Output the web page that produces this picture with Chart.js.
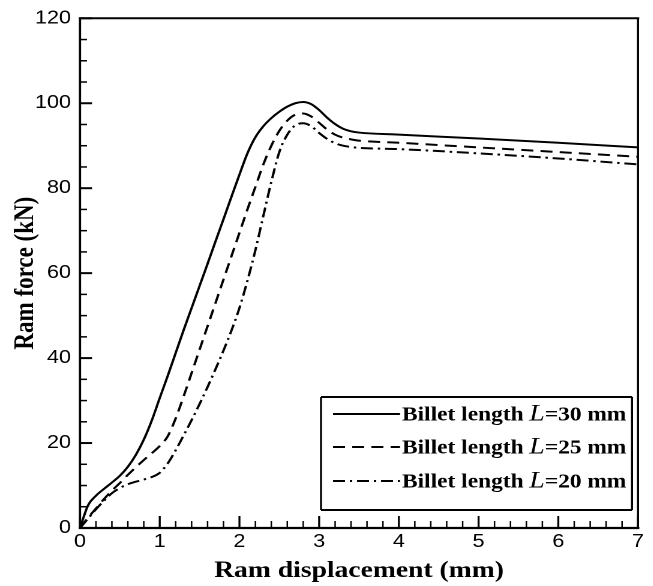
<!DOCTYPE html>
<html><head><meta charset="utf-8">
<script src="https://cdn.jsdelivr.net/npm/chart.js@4/dist/chart.umd.min.js"></script>
<style>
html,body{margin:0;padding:0;background:#fff;overflow:hidden}
#wrap{width:544px;height:586px;position:relative;transform:scaleX(1.2);transform-origin:0 0}
</style>
</head><body><div id="wrap"><canvas id="c"></canvas></div>
<script>
// Ram displacement (mm)
const displacement = [0,0.1,0.2,0.3,0.4,0.5,0.6,0.7,0.8,0.9,1.0,1.1,1.2,1.3,1.4,1.5,1.6,1.7,1.8,1.9,2.0,2.1,2.2,2.3,2.4,2.5,2.6,2.7,2.8,2.9,3.0,3.1,3.2,3.3,3.4,3.5,4,5,6,7];
// Ram force (kN)
const forceL30 = [0,5.3,7.6,9.2,10.7,12.3,14.4,17.2,20.8,25.3,30.6,35.8,41.2,46.6,51.8,57,62.2,67.5,72.7,78,83.2,88.2,92,94.6,96.5,98,99.2,100,100.3,99.8,98.4,96.6,95.1,94,93.4,93.1,92.6,91.7,90.7,89.6];
const forceL25 = [0,2.4,4.6,6.8,8.8,10.6,12.5,14.3,16,17.6,19.3,21.6,25.8,31,36.5,42,47.5,53,58.5,64,69.5,75,80.3,85.6,90,93.5,95.9,97.3,97.6,96.9,95.4,93.8,92.6,91.9,91.5,91.2,90.7,89.6,88.5,87.4];
const forceL20 = [0,2.2,4.4,6.4,8.2,9.4,10.3,10.9,11.4,12,13,15.2,18.3,21.8,25.4,29.2,33.2,37.4,41.8,46.5,51.8,58.2,65.4,73.5,81.5,88.5,92.6,94.8,95.3,94.6,93,91.6,90.6,90,89.7,89.5,89.2,88.2,87,85.6];
const billetLengths = [30, 25, 20];
const xTickValues = [0,1,2,3,4,5,6,7];
const yTickValues = [0,20,40,60,80,100,120];

const SX = 1.2; // horizontal stretch of the page
const seriesForces = [forceL30, forceL25, forceL20];
const dashStyles = [[], [10,6], [10,4,2,4]];

const datasets = seriesForces.map((f, i) => ({
  label: 'Billet length L=' + billetLengths[i] + ' mm',
  data: displacement.map((x, k) => ({x: x, y: f[k]})),
  borderColor: '#000',
  borderWidth: 2,
  borderDash: dashStyles[i],
  pointRadius: 0,
  fill: false,
  cubicInterpolationMode: 'monotone'
}));

const SANS = '"Liberation Sans", Arial, sans-serif';
const SERIF = '"Liberation Serif", "Times New Roman", serif';

function hLine(ctx, x1, x2, y, w) { ctx.lineWidth = w; ctx.beginPath(); ctx.moveTo(x1, y); ctx.lineTo(x2, y); ctx.stroke(); }
function vLine(ctx, x, y1, y2, w) { ctx.lineWidth = w; ctx.beginPath(); ctx.moveTo(x, y1); ctx.lineTo(x, y2); ctx.stroke(); }

const framePlugin = {
  id: 'frame',
  afterDatasetsDraw(chart) {
    const {ctx, chartArea: a, scales} = chart;
    const xs = scales.x, ys = scales.y;
    ctx.save();
    ctx.strokeStyle = '#000';
    ctx.setLineDash([]);
    ctx.lineCap = 'square';
    hLine(ctx, a.left, a.right, a.top, 2);
    hLine(ctx, a.left, a.right, a.bottom, 2.2);
    vLine(ctx, a.left, a.top, a.bottom, 2.2 / SX);
    vLine(ctx, a.right, a.top, a.bottom, 2 / SX);
    ctx.lineCap = 'butt';
    for (let i = 0; i <= 35; i++) {
      const px = xs.getPixelForValue(i * 0.2);
      const len = (i % 5 === 0) ? 12 : 7;
      vLine(ctx, px, a.bottom, a.bottom - len, (i % 5 === 0 ? 2 : 1.5) / SX);
    }
    for (let i = 0; i <= 24; i++) {
      const py = ys.getPixelForValue(i * 5);
      const len = ((i % 4 === 0) ? 12 : 7) / SX;
      hLine(ctx, a.left, a.left + len, py, i % 4 === 0 ? 2 : 1.5);
    }

    // legend
    const bx = 321 / SX, by = 397, bw = 311 / SX, bh = 113;
    ctx.fillStyle = '#fff';
    ctx.fillRect(bx, by, bw, bh);
    hLine(ctx, bx, bx + bw, by, 2);
    hLine(ctx, bx, bx + bw, by + bh, 2);
    vLine(ctx, bx, by, by + bh, 2 / SX);
    vLine(ctx, bx + bw, by, by + bh, 2 / SX);
    const rows = [414, 447, 481];
    chart.data.datasets.forEach((ds, i) => {
      const cy = rows[i];
      ctx.save();
      ctx.strokeStyle = ds.borderColor;
      ctx.lineWidth = ds.borderWidth;
      ctx.setLineDash(ds.borderDash);
      ctx.beginPath();
      ctx.moveTo(333 / SX, cy); ctx.lineTo(400 / SX, cy);
      ctx.stroke();
      ctx.restore();
      ctx.fillStyle = '#000';
      ctx.textBaseline = 'alphabetic';
      ctx.textAlign = 'left';
      const base = cy + 6.5;
      let tx = 402 / SX;
      ctx.font = 'bold 19.5px ' + SERIF;
      const t1 = 'Billet length ';
      ctx.fillText(t1, tx, base); tx += ctx.measureText(t1).width;
      ctx.font = 'italic 23px ' + SERIF;
      ctx.fillText('L', tx, base); tx += ctx.measureText('L').width;
      ctx.font = 'bold 19.5px ' + SERIF;
      ctx.fillText('=' + billetLengths[i] + ' mm', tx, base);
    });
    ctx.restore();
  }
};

new Chart(document.getElementById('c'), {
  type: 'line',
  data: { datasets: datasets },
  options: {
    responsive: true,
    maintainAspectRatio: false,
    animation: false,
    devicePixelRatio: 2,
    layout: { padding: { top: 18, right: 544 - 638 / SX, left: 0, bottom: 0 } },
    plugins: { legend: { display: false }, tooltip: { enabled: false } },
    scales: {
      x: {
        type: 'linear', min: 0, max: 7,
        afterBuildTicks(s) { s.ticks = xTickValues.map(v => ({value: v})); },
        afterFit(s) { s.height = 58; },
        grid: { display: false, drawTicks: false },
        border: { display: false },
        ticks: { color: '#000', padding: 3, font: { family: SANS, size: 18 } },
        title: { display: true, text: 'Ram displacement (mm)', color: '#000',
                 font: { family: SERIF, size: 23, weight: 'bold' }, padding: { top: 0, bottom: 1 } }
      },
      y: {
        type: 'linear', min: 0, max: 120,
        afterBuildTicks(s) { s.ticks = yTickValues.map(v => ({value: v})); },
        afterFit(s) { s.width = 80 / SX; },
        grid: { display: false, drawTicks: false },
        border: { display: false },
        ticks: { color: '#000', padding: 7.5, font: { family: SANS, size: 18 } },
        title: { display: true, text: 'Ram force (kN)', color: '#000',
                 font: { family: SERIF, size: 23, weight: 'bold' }, padding: { top: 8, bottom: 0 } }
      }
    }
  },
  plugins: [framePlugin]
});
</script></body></html>
